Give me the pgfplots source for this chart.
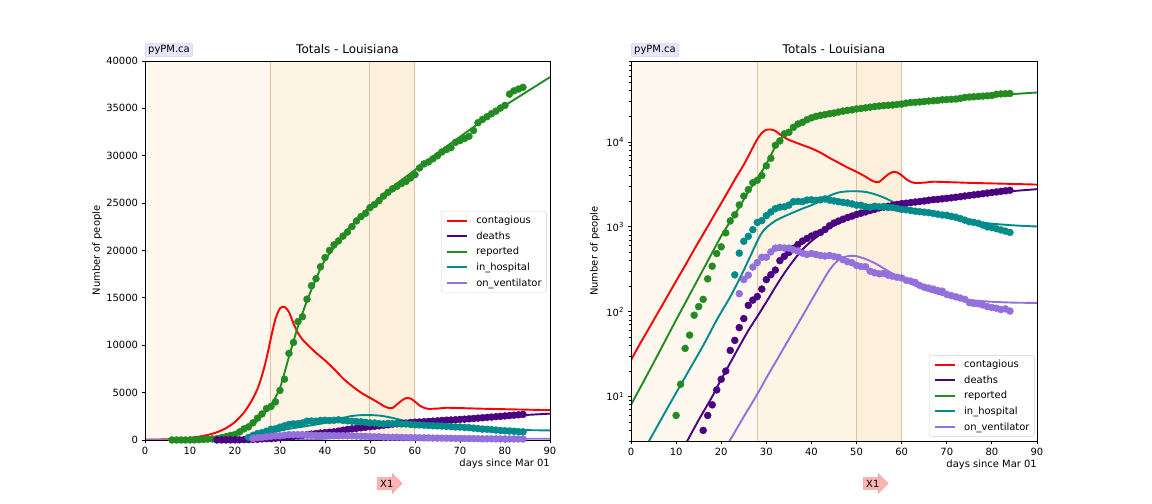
\documentclass[border=0pt]{standalone}
\usepackage{fontspec}
\setmainfont{DejaVu Sans}
\usepackage{pgfplots}
\pgfplotsset{compat=1.18}
\usepackage{pgfplotstable}
\usetikzlibrary{shapes.arrows}

\definecolor{cRed}{HTML}{FF0000}
\definecolor{cDeath}{HTML}{4B0082}
\definecolor{cRep}{HTML}{228B22}
\definecolor{cHosp}{HTML}{008B8B}
\definecolor{cVent}{HTML}{9370DB}
\definecolor{regA}{HTML}{FEF8EF}
\definecolor{regB}{HTML}{FDF4E3}
\definecolor{regC}{HTML}{FCEFDC}
\definecolor{regLine}{HTML}{DCC29E}
\definecolor{lavbg}{HTML}{E6E6FA}
\definecolor{lavbd}{HTML}{C8C8EE}
\definecolor{arrfill}{HTML}{FFB3B3}
\definecolor{arrdraw}{HTML}{E89C9C}

\newcommand{\lf}{\fontsize{10}{12}\selectfont}

% ---------------- data (points) ----------------
\pgfplotstableread{
d v
6 1
7 1
8 1
9 1
10 6
11 14
12 37
13 53
14 91
15 115
16 140
17 244
18 344
19 485
20 582
21 850
22 1176
23 1388
24 1814
25 2305
26 2746
27 3315
28 3540
29 4025
30 5237
31 6424
32 9150
33 10297
34 12496
35 13010
36 14867
37 16284
38 17030
39 18283
40 19253
41 20014
42 20595
43 21016
44 21518
45 21951
46 22532
47 23118
48 23580
49 23928
50 24523
51 24854
52 25258
53 25739
54 26140
55 26512
56 26773
57 27068
58 27286
59 27660
60 28001
61 28711
62 29140
63 29340
64 29673
65 29996
66 30399
67 30652
68 30855
69 31417
70 31600
71 31815
72 32050
73 32662
74 33489
75 33837
76 34117
77 34432
78 34709
79 35038
80 35316
81 36504
82 36850
83 37040
84 37220
}\repdata

\pgfplotstableread{
d v
16 4
17 6
18 8
19 12
20 16
21 20
22 35
23 46
24 65
25 83
26 119
27 137
28 151
29 185
30 239
31 273
32 310
33 400
34 450
35 500
36 560
37 620
38 680
39 730
40 780
41 820
42 860
43 930
44 1030
45 1110
46 1170
47 1230
48 1290
49 1340
50 1400
51 1450
52 1500
53 1560
54 1610
55 1670
56 1710
57 1750
58 1790
59 1840
60 1880
61 1900
62 1930
63 1960
64 1990
65 2020
66 2060
67 2090
68 2110
69 2140
70 2170
71 2200
72 2235
73 2270
74 2310
75 2345
76 2385
77 2420
78 2460
79 2500
80 2540
81 2580
82 2620
83 2660
84 2700
}\deathdata

\pgfplotstableread{
d v
23 272
24 490
25 676
26 773
27 927
28 1127
29 1185
30 1355
31 1498
32 1639
33 1707
34 1726
35 1803
36 1981
37 1996
38 1983
39 2067
40 2084
41 2054
42 2084
43 2134
44 2067
45 2025
46 1978
47 1943
48 1914
49 1864
50 1803
51 1796
52 1727
53 1700
54 1748
55 1725
56 1736
57 1690
58 1690
59 1650
60 1610
61 1590
62 1560
63 1530
64 1510
65 1490
66 1470
67 1440
68 1410
69 1380
70 1370
71 1330
72 1300
73 1250
74 1200
75 1150
76 1130
77 1100
78 1050
79 1000
80 980
81 950
82 920
83 890
84 860
}\hospdata

\pgfplotstableread{
d v
24 163
25 239
26 270
27 336
28 380
29 438
30 439
31 507
32 561
33 571
34 563
35 561
36 537
37 519
38 490
39 473
40 485
41 474
42 461
43 453
44 460
45 448
46 438
47 410
48 388
49 378
50 351
51 341
52 339
53 300
54 288
55 280
56 283
57 270
58 262
59 255
60 250
61 235
62 230
63 222
64 205
65 195
66 190
67 185
68 178
69 175
70 160
71 155
72 150
73 145
74 140
75 128
76 125
77 124
78 120
79 115
80 112
81 110
82 106
83 108
84 102
}\ventdata

% ---------------- model curves ----------------
\pgfplotstableread{
d v
0 27
2 42
4 64
6 98
8 150
10 230
12 350
14 540
16 820
18 1250
20 1900
22 2900
23 3600
24 4400
25 5400
26 6800
27 8600
28 10800
29 12800
30 13900
31 14050
32 13500
33 12300
34 11300
35 10600
36 10100
38 9200
40 8400
42 7500
44 6500
46 5700
48 5000
50 4450
52 3900
53 3600
54 3400
55 3380
56 3750
57 4150
58 4420
59 4380
60 4050
61 3650
62 3400
63 3290
65 3320
67 3400
70 3370
75 3300
80 3250
85 3200
90 3150
}\redmodel

\pgfplotstableread{
d v
0 0.2
4 0.47
8 1.1
12 2.7
15 5.3
18 10
20 16
22 25
24 39
26 60
28 88
30 130
32 195
34 285
36 400
38 540
40 680
42 820
44 970
46 1110
48 1250
50 1390
53 1560
56 1710
60 1880
65 2050
70 2200
75 2350
80 2500
85 2650
90 2780
}\deathmodel

\pgfplotstableread{
d v
0 8
5 25
10 80
15 250
20 780
22 1150
24 1700
26 2600
28 3700
30 5500
32 8800
34 12000
36 14700
38 17000
40 19000
45 22200
50 24600
55 26700
60 28500
65 30300
70 32000
75 33700
80 35300
85 36800
90 38300
}\repmodel

\pgfplotstableread{
d v
0 1.25
4 3
8 7.2
12 17
16 40
19 80
22 150
24 240
26 400
28 680
29 850
30 980
32 1180
34 1330
36 1480
38 1640
40 1800
42 2030
44 2330
46 2540
48 2620
50 2630
52 2580
54 2430
56 2220
58 1980
60 1780
62 1630
65 1470
70 1290
75 1170
80 1090
85 1040
90 1010
}\hospmodel

\pgfplotstableread{
d v
0 0.031
5 0.088
10 0.25
15 0.715
20 2.06
22 3.1
25 5.8
28 10.7
30 16.6
32 25.2
34 38.5
36 58.5
38 89
40 136
42 207
43 255
44 310
45 362
46 405
47 435
48 451
49 456
50 452
52 418
54 375
56 325
58 280
60 245
62 215
64 192
66 175
70 153
75 138
80 131
85 128
90 127
}\ventmodel

\pgfplotsset{
  covid/.style={
    scale only axis,
    anchor=south west,
    xmin=0, xmax=90,
    xtick={0,10,...,90},
    axis on top,
    tick align=outside,
    xtick pos=bottom, ytick pos=left,
    major tick length=3.5bp,
    minor tick length=2bp,
    every tick/.style={black, line width=0.8bp},
    axis line style={line width=0.8bp},
    tick label style={font=\lf},
    label style={font=\lf},
    title style={font=\fontsize{12}{14}\selectfont, at={(rel axis cs:0.5,1)}, anchor=base, yshift=2bp},
    title={Totals - Louisiana},
    xlabel={days since Mar 01},
    xlabel style={at={(rel axis cs:1,0)}, anchor=north east, yshift=-19bp, inner sep=0pt},
    ylabel={Number of people},
    /pgf/number format/assume math mode=true,
    /pgf/number format/fixed,
    /pgf/number format/1000 sep={},
    scaled ticks=false,
    legend cell align=left,
    legend style={draw=black!18, rounded corners=2.5bp, fill=white, font=\lf,
      inner xsep=5bp, inner ysep=1.5bp, column sep=8bp,
      nodes={inner sep=0bp, font=\lf}},
    legend image code/.code={%
      \path[draw=none, fill=none] (0bp,-7.8bp) rectangle (20bp,7.8bp);
      \draw[#1, line width=2bp] (0bp,0bp) -- (20bp,0bp);},
    model/.style={line width=1.9bp, smooth, tension=0.4, mark=none},
    pts/.style={only marks, mark=*, mark size=3.5bp, forget plot},
  }
}

\newcommand{\regions}{%
  \fill[regA] (rel axis cs:0,0) rectangle (rel axis cs:0.311111,1);
  \fill[regB] (rel axis cs:0.311111,0) rectangle (rel axis cs:0.555556,1);
  \fill[regC] (rel axis cs:0.555556,0) rectangle (rel axis cs:0.666667,1);
  \draw[regLine, line width=1bp] (rel axis cs:0.311111,0) -- (rel axis cs:0.311111,1);
  \draw[regLine, line width=1bp] (rel axis cs:0.555556,0) -- (rel axis cs:0.555556,1);
  \draw[regLine, line width=1bp] (rel axis cs:0.666667,0) -- (rel axis cs:0.666667,1);
}

\newcommand{\allplots}{%
  \addplot[cRed, model] table[x=d,y=v] {\redmodel};
  \addlegendentry{\lf contagious}
  \addplot[cDeath, model] table[x=d,y=v] {\deathmodel};
  \addlegendentry{\lf deaths}
  \addplot[cRep, model] table[x=d,y=v] {\repmodel};
  \addlegendentry{\lf reported}
  \addplot[cHosp, model] table[x=d,y=v] {\hospmodel};
  \addlegendentry{\lf in\_hospital}
  \addplot[cVent, model] table[x=d,y=v] {\ventmodel};
  \addlegendentry{\lf on\_ventilator}
  \addplot[cRep, pts] table[x=d,y=v] {\repdata};
  \addplot[cDeath, pts] table[x=d,y=v] {\deathdata};
  \addplot[cHosp, pts] table[x=d,y=v] {\hospdata};
  \addplot[cVent, pts] table[x=d,y=v] {\ventdata};
}

\begin{document}
\begin{tikzpicture}
\path[use as bounding box] (0,0) rectangle (1152bp,504bp);

% ---------- left: linear ----------
\begin{axis}[covid,
  at={(145bp,64bp)}, width=405bp, height=379bp,
  ymin=0, ymax=40000,
  ytick={0,5000,...,40000},
  ylabel style={at={(axis description cs:-0.1185,0.5)}, anchor=center},
  legend style={at={(rel axis cs:0.731,0.604)}, anchor=north west},
]
\regions
\allplots
\end{axis}

% ---------- right: log ----------
\begin{axis}[covid,
  at={(631bp,63bp)}, width=406bp, height=380bp,
  ymode=log, ymin=3, ymax=90000,
  ytick={10,100,1000,10000},
  yticklabels={10\textsuperscript{1},10\textsuperscript{2},10\textsuperscript{3},10\textsuperscript{4}},
  minor ytick={3,4,5,6,7,8,9,20,30,40,50,60,70,80,90,200,300,400,500,600,700,800,900,2000,3000,4000,5000,6000,7000,8000,9000,20000,30000,40000,50000,60000,70000,80000,90000},
  ylabel style={at={(axis description cs:-0.0887,0.5)}, anchor=center},
  legend style={at={(rel axis cs:0.734,0.226)}, anchor=north west},
]
\regions
\allplots
\end{axis}

% ---------- decorations ----------
\node[anchor=south west, fill=lavbg, draw=lavbd, rounded corners=2bp, inner xsep=3bp, inner ysep=2bp,
      font=\fontsize{10}{11}\selectfont] at (145bp,447bp) {pyPM.ca};
\node[anchor=south west, fill=lavbg, draw=lavbd, rounded corners=2bp, inner xsep=3bp, inner ysep=2bp,
      font=\fontsize{10}{11}\selectfont] at (631bp,447bp) {pyPM.ca};

\node[single arrow, draw=arrdraw, fill=arrfill, minimum height=25bp, single arrow head extend=4bp,
      inner sep=2bp, anchor=west, font=\lf] at (377bp,20.5bp) {X1};
\node[single arrow, draw=arrdraw, fill=arrfill, minimum height=25bp, single arrow head extend=4bp,
      inner sep=2bp, anchor=west, font=\lf] at (863bp,20.5bp) {X1};
\end{tikzpicture}
\end{document}
